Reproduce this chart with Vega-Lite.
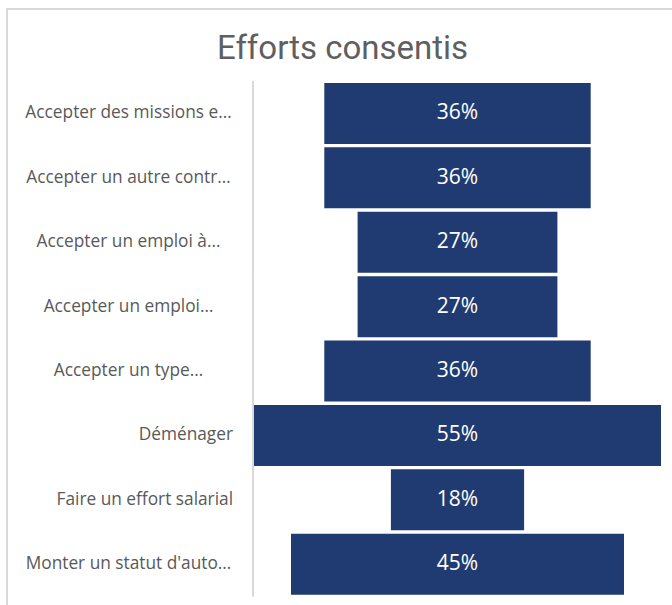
{
  "$schema": "https://vega.github.io/schema/vega-lite/v6.json",
  "width": 665,
  "height": 596,
  "autosize": {"type": "none"},
  "padding": {"left": 7, "top": 9, "right": 0, "bottom": 0},
  "background": "white",
  "title": {
    "text": "Efforts consentis",
    "font": "Roboto",
    "fontSize": 33,
    "fontWeight": "normal",
    "color": "#5f5f5f",
    "anchor": "middle",
    "frame": "group",
    "offset": -57,
    "dx": 3
  },
  "config": {
    "view": {"stroke": "#d9d9d9", "strokeWidth": 2, "strokeDash": [665, 1261, 596]}
  },
  "data": {
    "values": [
      {"effort": "Accepter des missions e…", "part": 0.36},
      {"effort": "Accepter un autre contr…", "part": 0.36},
      {"effort": "Accepter un emploi à…", "part": 0.27},
      {"effort": "Accepter un emploi…", "part": 0.27},
      {"effort": "Accepter un type…", "part": 0.36},
      {"effort": "Déménager", "part": 0.55},
      {"effort": "Faire un effort salarial", "part": 0.18},
      {"effort": "Monter un statut d'auto…", "part": 0.45}
    ]
  },
  "encoding": {
    "y": {
      "field": "effort",
      "type": "nominal",
      "sort": null,
      "scale": {"paddingInner": 0.0526, "paddingOuter": 0.654, "align": 0.878},
      "axis": null
    }
  },
  "layer": [
    {
      "mark": {"type": "tick", "color": "#d9d9d9", "thickness": 2, "size": 65, "opacity": 1},
      "encoding": {
        "x": {"datum": -0.00135, "type": "quantitative", "scale": {"domain": [-0.333784, 0.564865], "zero": false, "nice": false}, "axis": null}
      }
    },
    {
      "mark": {"type": "bar", "color": "#1f3b71"},
      "encoding": {
        "x": {"field": "part", "type": "quantitative", "stack": "center", "scale": {"domain": [-0.333784, 0.564865], "zero": false, "nice": false}, "axis": null}
      }
    },
    {
      "mark": {"type": "text", "color": "white", "font": "Open Sans", "fontSize": 21, "baseline": "middle", "align": "center"},
      "encoding": {
        "x": {"datum": 0.275, "type": "quantitative", "axis": null},
        "text": {"field": "part", "type": "quantitative", "format": ".0%"}
      }
    },
    {
      "transform": [{"filter": "indexof(datum.effort, '…') >= 0"}],
      "mark": {"type": "text", "color": "#595959", "font": "Open Sans", "fontSize": 17.3, "baseline": "middle", "align": "center"},
      "encoding": {
        "x": {"datum": -0.1696, "type": "quantitative", "axis": null},
        "text": {"field": "effort", "type": "nominal"}
      }
    },
    {
      "transform": [{"filter": "indexof(datum.effort, '…') < 0"}],
      "mark": {"type": "text", "color": "#595959", "font": "Open Sans", "fontSize": 17.3, "baseline": "middle", "align": "right"},
      "encoding": {
        "x": {"datum": -0.02838, "type": "quantitative", "axis": null},
        "text": {"field": "effort", "type": "nominal"}
      }
    }
  ]
}
